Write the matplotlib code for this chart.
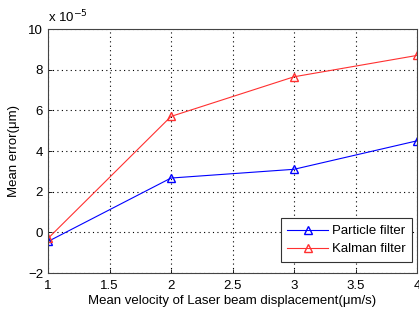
import matplotlib
matplotlib.use('Agg')
import matplotlib.pyplot as plt

# Data
velocity = [1, 2, 3, 4]
particle_err = [-0.45, 2.67, 3.1, 4.5]
kalman_err = [-0.3, 5.7, 7.65, 8.7]
xticks = [1, 1.5, 2, 2.5, 3, 3.5, 4]
yticks = [-2, 0, 2, 4, 6, 8, 10]

plt.rcParams['font.family'] = ['Liberation Sans', 'DejaVu Sans']
_FS = 9.5

fig = plt.figure(figsize=(4.19, 3.13), dpi=100)
ax = fig.add_axes([48 / 419, 40 / 313, 369 / 419, 244 / 313])

ax.plot(velocity, particle_err, color='#0000ff', linewidth=0.8, marker='^',
        markersize=6, markerfacecolor='none', markeredgecolor='#0000ff',
        label='Particle filter')
ax.plot(velocity, kalman_err, color='#ff3030', linewidth=0.8, marker='^',
        markersize=6, markerfacecolor='none', markeredgecolor='#ff3030',
        label='Kalman filter')

ax.set_xlim(1, 4)
ax.set_ylim(-2, 10)
ax.set_xticks(xticks)
ax.set_xticklabels(['1', '1.5', '2', '2.5', '3', '3.5', '4'])
ax.set_yticks(yticks)
ax.grid(True, color='black', linestyle=(0, (1, 3)), linewidth=0.8)
ax.tick_params(direction='in', length=3, labelsize=_FS, width=0.6)
ax.tick_params(axis='x', pad=5)
for s in ax.spines.values():
    s.set_color('#444444')
    s.set_linewidth(0.8)

ax.set_xlabel('Mean velocity of Laser beam displacement(μm/s)', fontsize=_FS, labelpad=2)
ax.set_ylabel('Mean error(μm)', fontsize=_FS, labelpad=6)
ax.text(0.0, 1.015, r'x 10$^{-5}$', transform=ax.transAxes, fontsize=_FS,
        ha='left', va='bottom')

leg = ax.legend(loc='lower right', fontsize=_FS, fancybox=False, framealpha=1,
                edgecolor='#333333', handlelength=3.1, handletextpad=0.3,
                borderpad=0.5, labelspacing=0.45, borderaxespad=0,
                bbox_to_anchor=(0.987, 0.045))
leg.get_frame().set_linewidth(0.8)

fig.savefig('out.png', dpi=100)
